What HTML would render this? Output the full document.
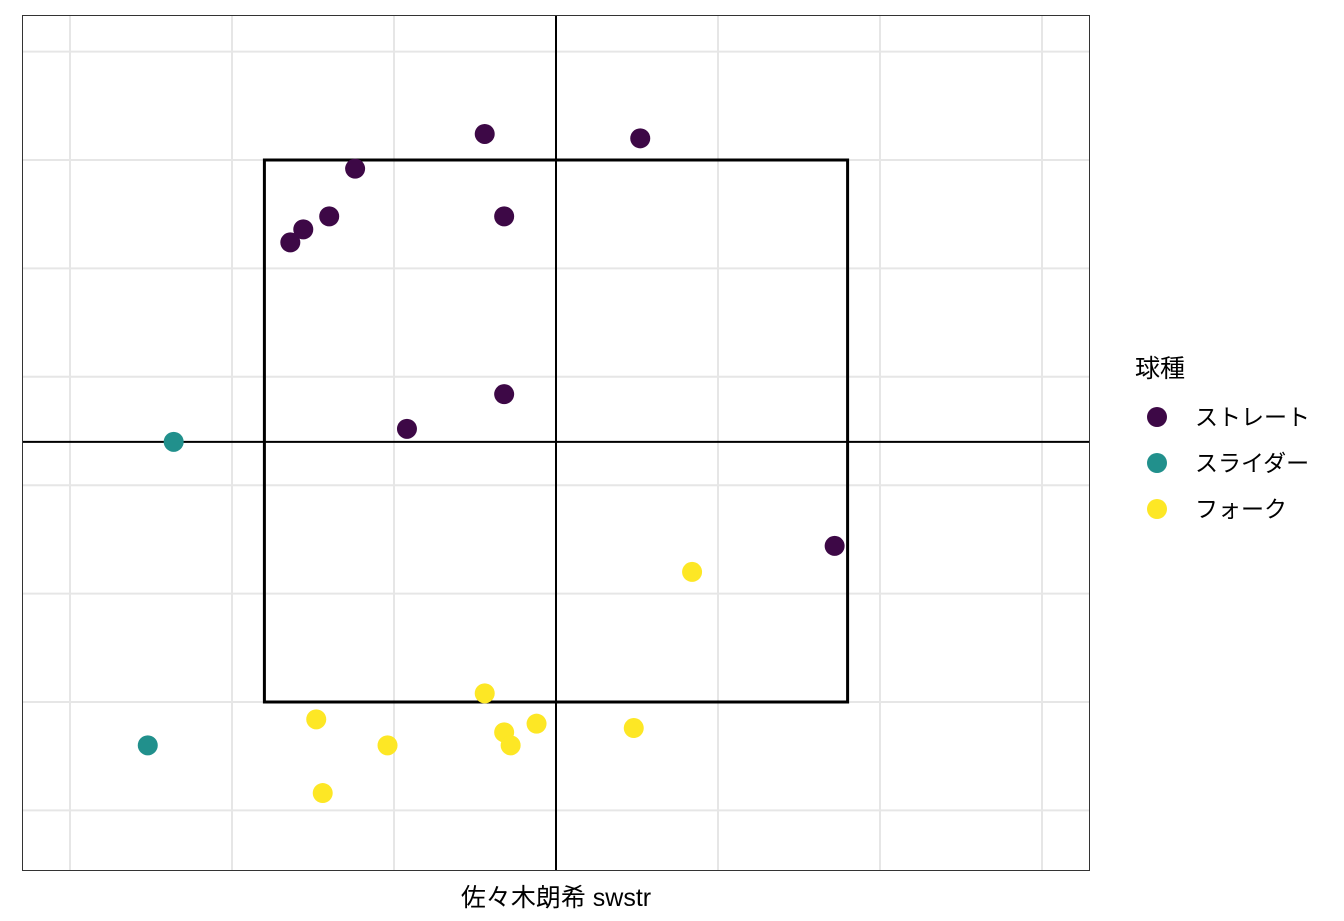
<!DOCTYPE html>
<html><head><meta charset="utf-8"><style>
body{margin:0;background:#fff}
svg{display:block;font-family:"Liberation Sans","Noto Sans CJK JP",sans-serif}
</style></head><body>
<svg id="chart" width="1344" height="921">
<g id="grid"></g><g id="marks"></g>
<rect x="22.5" y="15.5" width="1067" height="855" fill="none" stroke="#333" stroke-width="1"/>
<text x="556" y="906" text-anchor="middle" font-size="25" fill="#000">佐々木朗希 swstr</text>
<g>
<text x="1135" y="377" font-size="25">球種</text>
<g id="legend"></g>
</g>
</svg>
<script>
const categories=["ストレート","スライダー","フォーク"];
const colors=["#3d0846","#21908C","#FDE725"];
const straightX=[-0.22,0.26,-0.62,-0.78,-0.82,-0.70,-0.16,-0.16,-0.46,0.86];
const straightY=[3.62,3.60,3.46,3.18,3.12,3.24,3.24,2.42,2.26,1.72];
const sliderX=[-1.18,-1.26];
const sliderY=[2.20,0.80];
const forkX=[0.42,-0.22,-0.74,-0.52,-0.16,-0.14,-0.06,0.24,-0.72];
const forkY=[1.60,1.04,0.92,0.80,0.86,0.80,0.90,0.88,0.58];
const xGrid=[-1.5,-1,-0.5,0,0.5,1,1.5];
const yGrid=[3.85,3.5,3,2.5,2,1.5,1,0.5];
const zone={left:-0.9,right:0.9,top:3.5,bottom:1.0};
const centerX=0, centerY=2.2;

const sx=v=>556+v*324;
const sy=v=>160+(3.5-v)*216.8;
const NS="http://www.w3.org/2000/svg";
function mk(tag,attrs,parent){const e=document.createElementNS(NS,tag);for(const k in attrs)e.setAttribute(k,attrs[k]);parent.appendChild(e);return e;}
const grid=document.getElementById('grid'),marks=document.getElementById('marks'),legend=document.getElementById('legend');
mk('rect',{x:22,y:15,width:1067,height:855,fill:'#fff'},grid);
const ygridVals=[sy(3.5)-108.4,...yGrid.slice(1).map(sy)];
xGrid.forEach(v=>{const l=mk('line',{x1:sx(v),x2:sx(v),y1:15,y2:870,stroke:'#e6e6e6','stroke-width':2},grid);

});
ygridVals.forEach(p=>{const l=mk('line',{x1:22,x2:1089,y1:p,y2:p,stroke:'#e6e6e6','stroke-width':2},grid);

});
const vl=mk('line',{x1:sx(centerX),x2:sx(centerX),y1:15,y2:870,stroke:'#000','stroke-width':2},marks);


const hl=mk('line',{x1:22,x2:1089,y1:sy(centerY),y2:sy(centerY),stroke:'#000','stroke-width':2},marks);


const z=mk('rect',{x:sx(zone.left),y:sy(zone.top),width:sx(zone.right)-sx(zone.left),height:sy(zone.bottom)-sy(zone.top),fill:'none',stroke:'#000','stroke-width':3},marks);


const series=[[straightX,straightY],[sliderX,sliderY],[forkX,forkY]];
series.forEach((s,i)=>{s[0].forEach((x,j)=>{const c=mk('circle',{cx:sx(x),cy:sy(s[1][j]),r:10,fill:colors[i]},marks);

});});
categories.forEach((c,i)=>{const y=417+i*46;
const d=mk('circle',{cx:1157,cy:y,r:10,fill:colors[i]},legend);


const t=mk('text',{x:1195,y:y+8,'font-size':23},legend);t.textContent=c;

});
</script>
</body></html>
